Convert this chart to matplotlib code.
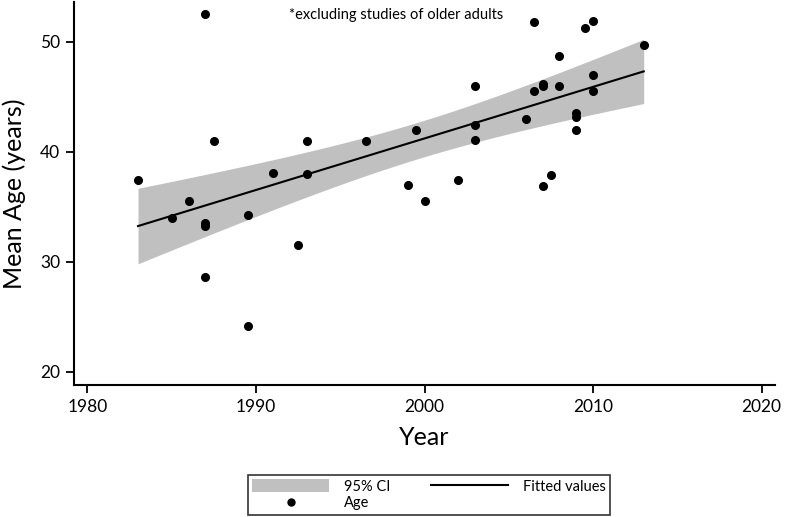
import numpy as np
import matplotlib
matplotlib.use("Agg")
import matplotlib.pyplot as plt
from matplotlib.patches import Patch
from matplotlib.lines import Line2D

# study year and mean age
year = [1983.0, 1985.0, 1986.0, 1987.0, 1987.0, 1987.0, 1987.0, 1987.5,
        1989.5, 1989.5, 1991.0, 1992.5, 1993.0, 1993.0, 1996.5, 1999.0,
        1999.5, 2000.0, 2002.0, 2003.0, 2003.0, 2003.0, 2006.0, 2006.5,
        2006.5, 2007.0, 2007.0, 2007.0, 2007.5, 2008.0, 2008.0, 2009.0,
        2009.0, 2009.0, 2009.5, 2010.0, 2010.0, 2010.0, 2013.0]
age = [37.4, 34.0, 35.5, 33.3, 33.5, 28.6, 52.5, 41.0,
       34.3, 24.2, 38.1, 31.5, 41.0, 38.0, 41.0, 37.0,
       42.0, 35.5, 37.4, 46.0, 42.4, 41.1, 43.0, 51.8,
       45.5, 46.2, 46.0, 36.9, 37.9, 48.7, 46.0, 43.5,
       43.2, 42.0, 51.2, 51.9, 47.0, 45.5, 49.7]

x_ticks = [1980, 1990, 2000, 2010, 2020]
y_ticks = [20, 30, 40, 50]
note = "*excluding studies of older adults"

T_CRIT = 2.026  # t(0.975, df=37)

x = np.array(year)
y = np.array(age)
n = len(x)
b, a = np.polyfit(x, y, 1)
xs = np.linspace(x.min(), x.max(), 100)
fit = a + b * xs
resid = y - (a + b * x)
s = np.sqrt(np.sum(resid**2) / (n - 2))
se = s * np.sqrt(1.0 / n + (xs - x.mean())**2 / np.sum((x - x.mean())**2))
lo = fit - T_CRIT * se
hi = fit + T_CRIT * se

font = ['Lato', 'DejaVu Sans']
plt.rcParams['font.family'] = font

fig = plt.figure(figsize=(7.87, 5.17), dpi=100)
ax = fig.add_axes([0.094, 0.255, 0.891, 0.741])

ax.fill_between(xs, lo, hi, color='#c0c0c0', linewidth=0)
ax.plot(xs, fit, color='black', linewidth=1.5)
ax.plot(x, y, 'o', color='black', markersize=5.5)

ax.set_xlim(1979.2, 2020.8)
ax.set_ylim(18.8, 53.6)
ax.set_xticks(x_ticks)
ax.set_yticks(y_ticks)
ax.spines['top'].set_visible(False)
ax.spines['right'].set_visible(False)
for sp in ['left', 'bottom']:
    ax.spines[sp].set_linewidth(1.5)
ax.tick_params(direction='out', length=6, width=1.3, pad=4, labelsize=12.5)

ax.set_xlabel("Year", fontsize=18, labelpad=8)
ax.set_ylabel("Mean Age (years)", fontsize=18, labelpad=10)

ax.text(0.46, 0.985, note, transform=ax.transAxes, ha='center', va='top',
        fontsize=10.5)

handles = [Patch(facecolor='#c0c0c0', edgecolor='none'),
           Line2D([], [], marker='o', color='black', linestyle='none', markersize=5),
           Line2D([], [], color='black', linewidth=1.5)]
labels = ["95% CI", "Age", "Fitted values"]
leg = fig.legend(handles, labels, loc='lower center', bbox_to_anchor=(0.545, 0.0),
                 ncol=2, frameon=True, fancybox=False, prop={'size': 10.5},
                 handlelength=5.3, handleheight=1.0, columnspacing=2.8,
                 borderpad=0.3, labelspacing=0.15, handletextpad=1.0,
                 borderaxespad=0.15)
leg.get_frame().set_edgecolor('black')
leg.get_frame().set_linewidth(1.2)

fig.savefig("out.png", dpi=100)
